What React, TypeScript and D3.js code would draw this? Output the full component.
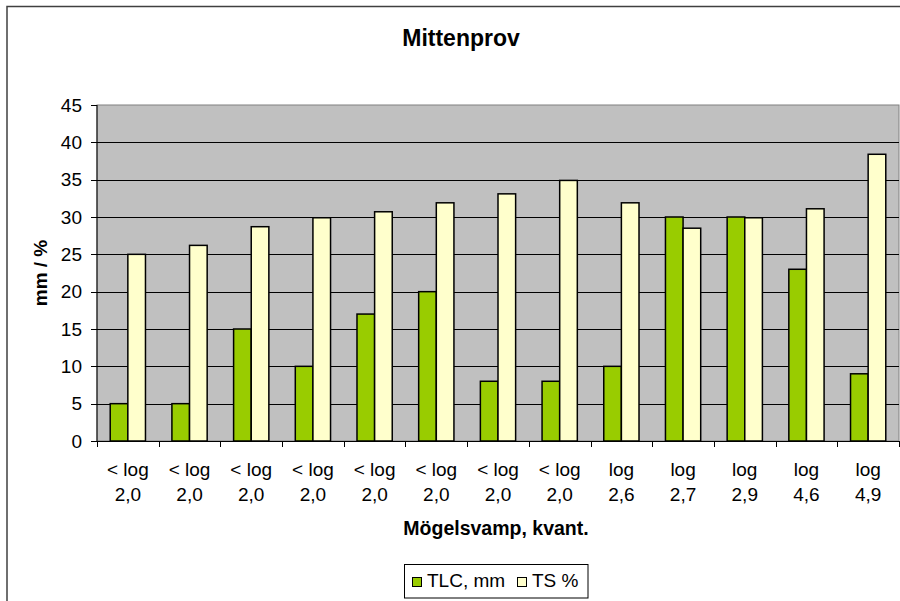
import React from "react";
import * as d3 from "d3";

// Category labels (two lines each) along the x axis
const labelLine1 = ["< log", "< log", "< log", "< log", "< log", "< log", "< log", "< log", "log", "log", "log", "log", "log"];
const labelLine2 = ["2,0", "2,0", "2,0", "2,0", "2,0", "2,0", "2,0", "2,0", "2,6", "2,7", "2,9", "4,6", "4,9"];

// Series values
const tlcValues = [5, 5, 15, 10, 17, 20, 8, 8, 10, 30, 30, 23, 9];
const tsValues = [25, 26.2, 28.7, 29.9, 30.7, 31.9, 33.1, 34.9, 31.9, 28.5, 29.9, 31.1, 38.4];

const seriesNames = ["TLC, mm", "TS %"];
const yTicks = [0, 5, 10, 15, 20, 25, 30, 35, 40, 45];

const W = 900;
const H = 601;
const plot = { left: 97, right: 899, top: 105, bottom: 441 };
const FONT = "'Liberation Sans', Arial, sans-serif";
const colors = ["#99CC00", "#FFFFCC"];

export default function App() {
  const ids = labelLine1.map((_, i) => String(i));
  const x = d3.scaleBand<string>().domain(ids).range([plot.left, plot.right]).paddingInner(0).paddingOuter(0);
  const y = d3.scaleLinear().domain([0, 45]).range([plot.bottom, plot.top]);
  const step = x.step();
  const barW = step / 3.5;
  const series = [tlcValues, tsValues];

  return (
    <svg
      width={W}
      height={H}
      style={{ position: "absolute", left: 0, top: 0, display: "block", background: "#fff" }}
      fontFamily={FONT}
    >
      {/* chart frame */}
      <rect x={7} y={6.5} width={920} height={620} fill="#fff" stroke="#404040" strokeWidth={1.5} />

      <text x={461} y={46} textAnchor="middle" fontSize={23} fontWeight="bold" fill="#000">
        Mittenprov
      </text>

      {/* plot background */}
      <rect
        x={plot.left}
        y={plot.top}
        width={plot.right - plot.left}
        height={plot.bottom - plot.top}
        fill="#C0C0C0"
        stroke="#808080"
        strokeWidth={1}
      />

      {/* horizontal gridlines */}
      {yTicks.filter((t) => t > 0 && t < 45).map((t) => (
        <line key={t} x1={plot.left} x2={plot.right} y1={Math.round(y(t)) + 0.5} y2={Math.round(y(t)) + 0.5} stroke="#000" strokeWidth={1} />
      ))}

      {/* bars */}
      {series.map((vals, s) =>
        vals.map((v, i) => {
          const cx = (x(ids[i]) as number) + step / 2;
          const bx = cx - barW + s * barW;
          return (
            <rect
              key={`${s}-${i}`}
              x={bx}
              y={y(v)}
              width={barW}
              height={y(0) - y(v)}
              fill={colors[s]}
              stroke="#000"
              strokeWidth={1.5}
            />
          );
        })
      )}

      {/* y axis */}
      <line x1={plot.left} x2={plot.left} y1={plot.top} y2={plot.bottom} stroke="#000" strokeWidth={1} />
      {yTicks.map((t) => (
        <g key={t}>
          <line x1={plot.left - 6} x2={plot.left} y1={Math.round(y(t)) + 0.5} y2={Math.round(y(t)) + 0.5} stroke="#000" />
          <text x={82} y={y(t) + 6.5} textAnchor="end" fontSize={19} fill="#000">
            {t}
          </text>
        </g>
      ))}
      <text
        transform={`translate(47, ${(plot.top + plot.bottom) / 2}) rotate(-90)`}
        textAnchor="middle"
        fontSize={19}
        fontWeight="bold"
        fill="#000"
      >
        mm / %
      </text>

      {/* x axis */}
      <line x1={plot.left} x2={plot.right} y1={plot.bottom + 0.5} y2={plot.bottom + 0.5} stroke="#000" strokeWidth={1} />
      {ids.concat(["end"]).map((id, i) => {
        const xx = i < ids.length ? (x(id) as number) : plot.right;
        return <line key={`t${i}`} x1={Math.round(xx) + 0.5} x2={Math.round(xx) + 0.5} y1={plot.bottom} y2={plot.bottom + 6} stroke="#000" />;
      })}
      {ids.map((id, i) => {
        const cx = (x(id) as number) + step / 2;
        return (
          <g key={`l${i}`}>
            <text x={cx} y={476} textAnchor="middle" fontSize={19} fill="#000">
              {labelLine1[i]}
            </text>
            <text x={cx} y={501} textAnchor="middle" fontSize={19} fill="#000">
              {labelLine2[i]}
            </text>
          </g>
        );
      })}
      <text x={496} y={535} textAnchor="middle" fontSize={19.5} fontWeight="bold" fill="#000">
        Mögelsvamp, kvant.
      </text>

      {/* legend */}
      <rect x={404.5} y={564.5} width={183.5} height={33.5} fill="#fff" stroke="#000" strokeWidth={1} />
      {seriesNames.map((name, i) => {
        const sx = i === 0 ? 412 : 517;
        return (
          <g key={name}>
            <rect x={sx + 0.5} y={577.5} width={9} height={9} fill={colors[i]} stroke="#000" strokeWidth={1} />
            <text x={sx + 15} y={587} fontSize={19} fill="#000">
              {name}
            </text>
          </g>
        );
      })}
    </svg>
  );
}
